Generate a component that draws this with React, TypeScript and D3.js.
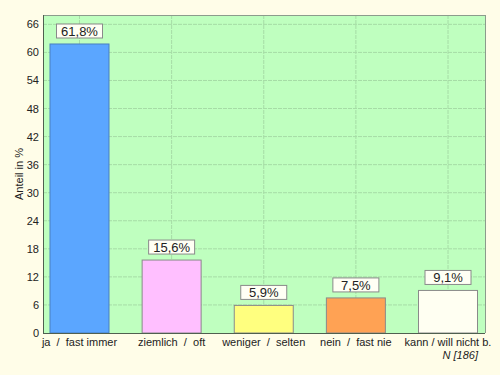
import React from 'react';
import * as d3 from 'd3';

const categories = ['ja  /  fast immer', 'ziemlich  /  oft', 'weniger  /  selten', 'nein  /  fast nie', 'kann / will nicht b.'];
const values = [61.8, 15.6, 5.9, 7.5, 9.1];
const barColors = ['#5ba6ff', '#ffbfff', '#ffff7f', '#ffa254', '#fffff2'];
const yTicks = d3.range(0, 67, 6);
const sampleNote = 'N [186]';

const W = 500;
const H = 375;
const plot = { left: 43, right: 485, top: 15, bottom: 333 };

const App = () => {
  const x = d3.scalePoint<string>()
    .domain(categories)
    .range([plot.left + 36.5, plot.right - 37]);
  const y = d3.scaleLinear().domain([0, 68]).range([plot.bottom, plot.top]);
  const barW = 59;
  const font = 'Arial, "Liberation Sans", sans-serif';
  const fmt = (v: number) => v.toFixed(1).replace('.', ',') + '%';

  return (
    <svg width={W} height={H} style={{ position: 'fixed', left: 0, top: 0, display: 'block' }} fontFamily={font}>
      <rect width={W} height={H} fill="#fffde8" />
      <rect x={plot.left} y={plot.top} width={plot.right - plot.left} height={plot.bottom - plot.top} fill="#bfffbf" />
      {/* grid */}
      {yTicks.filter(t => t > 0).map(t => (
        <line key={'h' + t} x1={plot.left} x2={plot.right} y1={y(t)} y2={y(t)} stroke="#a6dca6" strokeWidth={1} strokeDasharray="4,1" />
      ))}
      {categories.map(c => (
        <line key={'v' + c} x1={x(c)} x2={x(c)} y1={plot.top} y2={plot.bottom} stroke="#a6dca6" strokeWidth={1} strokeDasharray="4,1" />
      ))}
      {/* frame */}
      <line x1={plot.left} x2={plot.right} y1={plot.top + 0.5} y2={plot.top + 0.5} stroke="#8c9c8c" />
      <line x1={plot.right + 0.5} x2={plot.right + 0.5} y1={plot.top} y2={plot.bottom} stroke="#8c9c8c" />
      {/* bars */}
      {categories.map((c, i) => (
        <rect key={'b' + c} x={(x(c) as number) - barW / 2} y={y(values[i])} width={barW} height={plot.bottom - y(values[i])}
          fill={barColors[i]} stroke={i === 0 ? '#4a7fbf' : '#8a8a8a'} strokeWidth={1} />
      ))}
      {/* value labels */}
      {categories.map((c, i) => {
        const cx = x(c) as number;
        const top = y(values[i]) - 20;
        return (
          <g key={'l' + c}>
            <rect x={cx - 23} y={top} width={46} height={14} fill="#fffff4" stroke="#8a8a8a" />
            <text x={cx} y={top + 12} textAnchor="middle" fontSize={13} fill="#222">{fmt(values[i])}</text>
          </g>
        );
      })}
      {/* axes */}
      <line x1={plot.left + 0.5} x2={plot.left + 0.5} y1={plot.top} y2={plot.bottom} stroke="#4f5f4f" />
      <line x1={plot.left} x2={plot.right} y1={plot.bottom + 0.5} y2={plot.bottom + 0.5} stroke="#4f5f4f" />
      {yTicks.map(t => (
        <text key={'t' + t} x={39} y={y(t) + 4} textAnchor="end" fontSize={11} fill="#222">{t}</text>
      ))}
      {categories.map(c => (
        <text key={'x' + c} x={x(c)} y={346} textAnchor="middle" fontSize={11} fill="#222" style={{ whiteSpace: 'pre' }}>{c}</text>
      ))}
      <text x={478} y={359} textAnchor="end" fontSize={11} fontStyle="italic" fill="#222">{sampleNote}</text>
      <text transform={`translate(23,174) rotate(-90)`} textAnchor="middle" fontSize={11} fill="#222">Anteil in %</text>
    </svg>
  );
};

export default App;
